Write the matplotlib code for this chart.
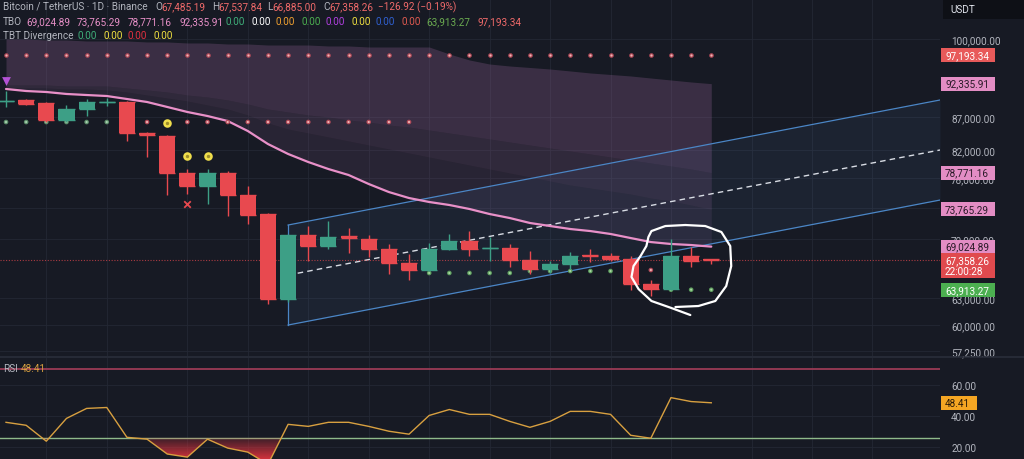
import numpy as np
import matplotlib
matplotlib.use('Agg')
import matplotlib.pyplot as plt
from matplotlib import transforms
from matplotlib.path import Path
from matplotlib.patches import PathPatch, Rectangle
from matplotlib.lines import Line2D
from matplotlib.ticker import NullLocator

plt.rcParams['font.family'] = ['Roboto', 'DejaVu Sans']

# ---------------- data ----------------
opens = [89500, 89680, 89200, 86530, 88250, 89360, 89360, 84600, 84100, 78720,
         76910, 78720, 75690, 73160, 62860, 70470, 69100, 70350, 69970, 68730,
         67030, 66200, 68730, 69710, 68800, 68850, 67400, 66320, 66910, 67950,
         67880, 67520, 64560, 63990, 67880, 67485.19]
highs = [91130, 89900, 89400, 88900, 89900, 90000, 89500, 84700, 84300, 79280,
         79280, 79000, 76910, 73300, 70600, 71610, 72250, 71360, 70470, 69340,
         68120, 69470, 70590, 70970, 70220, 69340, 68480, 67280, 68360, 68730,
         68240, 67880, 65030, 69970, 68980, 67537.84]
lows = [88570, 88900, 86300, 86200, 87150, 88800, 83350, 81000, 75690, 75820,
        74480, 72900, 71870, 62300, 62500, 67280, 68730, 68240, 67760, 65730,
        65030, 66100, 68600, 67880, 67280, 66560, 65730, 65840, 66320, 67150,
        67280, 63880, 63200, 63880, 66560, 66885.00]
closes = [89520, 89040, 86530, 88250, 89360, 89400, 84550, 84300, 78720, 76910,
          78720, 75690, 73030, 62860, 70470, 69100, 70220, 70100, 68730, 67030,
          66200, 68730, 69710, 68730, 68850, 67400, 66320, 66910, 67880, 67850,
          67520, 64560, 63990, 67880, 67280, 67358.26]

# TBO lines (top -> pink baseline)
tbo_top = [100000, 100000, 99820, 99820, 99640, 99640, 99640, 99470, 99470, 99290,
           99290, 99110, 99110, 98930, 98930, 98930, 98760, 98760, 98580, 98580,
           98580, 98580, 97360, 96320, 95630, 95290, 95040, 94780, 94450, 94110,
           93860, 93610, 93270, 92940, 92610, 92335.91]
tbo_mid1 = [92110, 92110, 92110, 91950, 91950, 91950, 91620, 91300, 90970, 90480,
            90160, 89680, 89040, 88250, 87780, 87310, 87000, 86530, 86220, 85760,
            85460, 85000, 84550, 84100, 83650, 83200, 82750, 82310, 81870, 81440,
            81000, 80570, 80140, 79710, 79280, 78771.16]
tbo_mid2 = [91790, 91620, 91620, 91460, 91460, 91300, 90970, 90480, 90000, 89520,
            88880, 88250, 87310, 86070, 85150, 84550, 83950, 83350, 82750, 82170,
            81580, 81000, 80420, 79850, 79280, 78720, 78160, 77600, 77050, 76640,
            76230, 75820, 75280, 74880, 74350, 73765.29]
tbo_pink = [91460, 91130, 90970, 90650, 90480, 90320, 89840, 89360, 88570, 87780,
            87150, 86380, 84850, 82900, 81440, 80280, 79280, 78440, 77190, 76090,
            75280, 74750, 74350, 73820, 73160, 72640, 72000, 71610, 71230, 70970,
            70600, 70090, 69590, 69350, 69220, 69024.89]

upper_dots = [97193.34] * 36
mid_dot_idx = [0, 1, 2, 3, 4, 5, 6, 7, 9, 10, 11, 12, 13, 14, 15, 16, 17, 18, 19, 20]
mid_dot_price = [86220] * 20
mid_dot_green = [True] * 6 + [False] * 14
low_dot_idx = [21, 22, 23, 24, 25, 26, 27, 28, 29, 30, 32, 33, 34, 35]
low_dot_price = [65850, 65850, 65850, 65850, 65850, 66080, 66080, 66080, 66080, 66080,
                 66200, 63913.27, 63913.27, 63913.27]
low_dot_green = [True] * 10 + [False] + [True] * 3

tri_idx, tri_price = [0], [92770]
yellow_idx, yellow_price = [8, 9, 10], [86070, 81150, 81150]
cross_idx, cross_price = [9], [74480]

# regression channel (index, price)
chan_x = [14, 46.35]
chan_upper = [71740, 89680]
chan_mid = [65610, 82020]
chan_lower = [60010, 75010]

# hand-drawn circle annotation (index, price)
circle_x = [33.96, 33.02, 32.03, 31.39, 31.04, 31.14, 31.49, 31.78, 31.88, 32.03,
            32.72, 33.71, 34.70, 35.50, 35.94, 35.99, 35.74, 35.20, 34.36, 33.22]
circle_p = [61090, 61860, 62640, 63990, 65380, 66670, 67880, 69100, 70220, 70970,
            71610, 71740, 71610, 70850, 69100, 66670, 64330, 62640, 62080, 61970]

rsi = [35.9, 34.0, 23.8, 38.4, 44.8, 45.4, 26.3, 25.1, 15.6, 13.6,
       25.1, 19.4, 16.8, 9.0, 34.6, 33.3, 35.9, 35.9, 33.3, 30.2,
       28.3, 40.3, 44.1, 41.0, 41.0, 36.5, 32.7, 36.5, 42.9, 42.9,
       41.0, 27.6, 25.7, 51.7, 49.2, 48.41]
rsi_upper, rsi_lower = 70, 26

price_ticks = [100000, 87000, 82000, 78000, 74000, 70000, 63000, 60000, 57250]
price_tick_labels = ['100,000.00', '87,000.00', '82,000.00', '78,000.00', '',
                     '70,000.00', '63,000.00', '60,000.00', '57,250.00']
rsi_ticks = [20, 40, 60]
grid_idx = [2, 5, 9, 12, 15, 18, 21, 24, 27, 30, 33, 37, 40, 43]

last_price = 67358.26

# ---------------- style ----------------
BG = '#171a24'
RED = '#e8494f'
GREEN = '#3d9f86'
PINK = '#e890c8'
GRID = '#242834'
TXT = '#b2b5be'
FS = 7.2

W, H = 1024, 460
fig = plt.figure(figsize=(W / 100, H / 100), dpi=100)
fig.patch.set_facecolor(BG)
ax = fig.add_axes([0, 103 / H, 940 / W, 357 / H])
ax2 = fig.add_axes([0, 0, 940 / W, 101 / H])
for a in (ax, ax2):
    a.set_facecolor(BG)
    for s in a.spines.values():
        s.set_visible(False)
    a.set_xlim(-0.298, 46.35)
    a.set_xticks(grid_idx)
    a.tick_params(axis='x', length=0, labelbottom=False)
    a.yaxis.tick_right()
    a.tick_params(axis='y', length=0, pad=8, labelsize=FS, labelcolor=TXT)
    a.grid(True, color=GRID, lw=0.6)
    a.set_axisbelow(True)

ax.set_yscale('log')
ax.set_ylim(56780, 107400)
ax.yaxis.set_minor_locator(NullLocator())
ax.set_yticks(price_ticks)
ax.set_yticklabels(price_tick_labels)

x = np.arange(len(opens))

# TBO cloud
ax.fill_between(x, tbo_top, tbo_mid1, color='#a06aa0', alpha=0.26, lw=0, zorder=1)
ax.fill_between(x, tbo_mid1, tbo_mid2, color='#a06aa0', alpha=0.19, lw=0, zorder=1)
ax.fill_between(x, tbo_mid2, tbo_pink, color='#a06aa0', alpha=0.13, lw=0, zorder=1)

# channel
ax.fill_between(chan_x, chan_lower, chan_upper, color='#5b8fd0', alpha=0.08, lw=0, zorder=1)
ax.plot(chan_x, chan_upper, color='#4b86c6', lw=0.9, zorder=2)
ax.plot(chan_x, chan_lower, color='#4b86c6', lw=0.9, zorder=2)
ax.plot([chan_x[0], chan_x[0]], [chan_lower[0], chan_upper[0]], color='#4b86c6', lw=0.9, zorder=2)
ax.plot(chan_x, chan_mid, color='#d8dce4', lw=1.0, ls=(0, (4, 3)), zorder=2)

# pink baseline
ax.plot(x, tbo_pink, color=PINK, lw=1.6, zorder=3, solid_capstyle='round')

# last price line
ax.axhline(last_price, color=RED, lw=0.8, ls=(0, (1, 1.5)), alpha=0.7, zorder=2)

# dots
ax.scatter(x, upper_dots, s=11, color='#b04a58', zorder=4, lw=0)
ax.scatter(x, upper_dots, s=2.5, color='#f0b4b4', zorder=4, lw=0)
mcol = ['#5f8f6c' if g else '#b04a58' for g in mid_dot_green]
ax.scatter(mid_dot_idx, mid_dot_price, s=11, color=mcol, zorder=4, lw=0)
ax.scatter(mid_dot_idx, mid_dot_price, s=2.5, color=['#a8d0b0' if g else '#f0b4b4' for g in mid_dot_green], zorder=4, lw=0)
lcol = ['#5f9f60' if g else '#b04a58' for g in low_dot_green]
ax.scatter(low_dot_idx, low_dot_price, s=11, color=lcol, zorder=4, lw=0)
ax.scatter(low_dot_idx, low_dot_price, s=2.5, color=['#a8d8a0' if g else '#f0b4b4' for g in low_dot_green], zorder=4, lw=0)

# candles
for i in range(len(opens)):
    o, h, l, c = opens[i], highs[i], lows[i], closes[i]
    col = GREEN if c >= o else RED
    ax.vlines(i, l, h, color=col, lw=1.0, zorder=5)
    ax.bar(i, c - o, bottom=o, width=0.8, color=col, lw=0, zorder=6)
    ax.hlines([o, c], i - 0.4, i + 0.4, color=col, lw=1.0, zorder=6)

# markers
ax.scatter(tri_idx, tri_price, marker='v', s=40, color='#b452d6', lw=0, zorder=7)
ax.scatter(yellow_idx, yellow_price, marker='o', s=38, color='#f0de4c', lw=0, zorder=7)
ax.scatter(yellow_idx, yellow_price, marker='o', s=6, color='#9c8c2a', lw=0, zorder=7)
ax.scatter(cross_idx, cross_price, marker='x', s=22, color=RED, lw=1.3, zorder=7)

# hand drawn annotation
ax.plot(circle_x, circle_p, color='white', lw=1.6, zorder=8,
        solid_joinstyle='round', solid_capstyle='round')

# ---------------- RSI ----------------
ax2.set_ylim(12.4, 77.1)
ax2.set_yticks(rsi_ticks)
ax2.set_yticklabels([f'{t:.2f}' for t in rsi_ticks])
ax2.axhline(rsi_upper, color='#9a3b55', lw=1.3, zorder=2)
ax2.axhline(rsi_lower, color='#8fb98a', lw=1.0, zorder=2)
rsi_a = np.array(rsi)
poly = ax2.fill_between(x, rsi_a, rsi_lower, where=rsi_a < rsi_lower,
                        interpolate=True, color='none', lw=0)
paths = poly.get_paths()
if paths:
    cp = Path.make_compound_path(*paths)
    patch = PathPatch(cp, facecolor='none', edgecolor='none', transform=ax2.transData)
    ax2.add_patch(patch)
    grad = np.zeros((100, 1, 4))
    grad[:, 0, :3] = np.array([0.86, 0.2, 0.24])
    grad[:, 0, 3] = np.linspace(0.15, 0.95, 100)
    im = ax2.imshow(grad, extent=[-0.3, 46.35, 12.4, rsi_lower], origin='upper',
                    aspect='auto', zorder=2, interpolation='bilinear')
    im.set_clip_path(patch)
ax2.set_xlim(-0.298, 46.35)
ax2.set_ylim(12.4, 77.1)
ax2.plot(x, rsi, color='#d8a040', lw=1.0, zorder=4)

# pane separator
fig.add_artist(Line2D([0, 1], [102 / H, 102 / H], color='#2a2e3a', lw=1.2))

# ---------------- axis label boxes ----------------
inv = fig.transFigure.inverted()

def box(axis, val, lines, fc, tc, w=54, h=14, top=7):
    yf = inv.transform(axis.transData.transform((0, val)))[1]
    fig.add_artist(Rectangle((941 / W, yf - (h - top) / H), w / W, h / H,
                             transform=fig.transFigure, fc=fc, ec='none', zorder=9))
    for k, s in enumerate(lines):
        fig.text(945 / W, yf - (k * 11) / H, s, fontsize=FS, color=tc,
                 va='center', ha='left', zorder=10)

box(ax, 97193.34, ['97,193.34'], '#e85a5a', 'white')
box(ax, 92335.91, ['92,335.91'], '#e38dc4', '#2a1a28')
box(ax, 78771.16, ['78,771.16'], '#e38dc4', '#2a1a28')
box(ax, 73765.29, ['73,765.29'], '#e38dc4', '#2a1a28')
box(ax, 69024.89, ['69,024.89'], '#e38dc4', '#2a1a28')
box(ax, last_price, ['67,358.26', '22:00:28'], '#e04a4e', 'white', h=25, top=7)
box(ax, 63913.27, ['63,913.27'], '#4caf50', 'white')
box(ax2, 48.41, ['48.41'], '#f5a623', '#2a1a08', w=36)

# USDT header
fig.add_artist(Rectangle((943 / W, 1 - 20 / H), 81 / W, 20 / H, transform=fig.transFigure,
                         fc='#0e1016', ec='none', zorder=9))
fig.text(950 / W, 1 - 10 / H, 'USDT', fontsize=7.2, color='#e0e3eb', va='center', zorder=10)

# ---------------- legend texts ----------------
def T(xp, yp, s, color, size=FS):
    fig.text(xp / W, 1 - yp / H, s, color=color, fontsize=size, va='center', ha='left', zorder=10)

G = TXT
R = '#f06a6a'
T(3, 7, 'Bitcoin / TetherUS · 1D · Binance', G)
T(155, 7, 'O', G); T(161, 7, '67,485.19', R)
T(212, 7, 'H', G); T(218, 7, '67,537.84', R)
T(267, 7, 'L', G); T(272, 7, '66,885.00', R)
T(323, 7, 'C', G); T(329, 7, '67,358.26', R)
T(378, 7, '−126.92 (−0.19%)', R)

T(3, 22, 'TBO', G)
for xp, s, c in [(26, '69,024.89', PINK), (77, '73,765.29', PINK), (128, '78,771.16', PINK),
                 (179, '92,335.91', PINK), (226, '0.00', '#3fae7a'), (251, '0.00', '#ffffff'),
                 (276, '0.00', '#f0a030'), (301, '0.00', '#4caf50'), (326, '0.00', '#b040e0'),
                 (351, '0.00', '#f0e040'), (376, '0.00', '#3060d0'), (401, '0.00', '#e05a50'),
                 (426, '63,913.27', '#6aaa50'), (477, '97,193.34', R)]:
    T(xp, 22, s, c)

T(3, 36, 'TBT Divergence', G)
for xp, s, c in [(78, '0.00', '#3fae7a'), (103, '0.00', '#f0e040'), (128, '0.00', '#e03040'),
                 (153, '0.00', '#f0e040')]:
    T(xp, 36, s, c)

T(3, 369, 'RSI', G)
T(21, 369, '48.41', '#d8a040')

fig.savefig('out.png', dpi=100, facecolor=BG)
